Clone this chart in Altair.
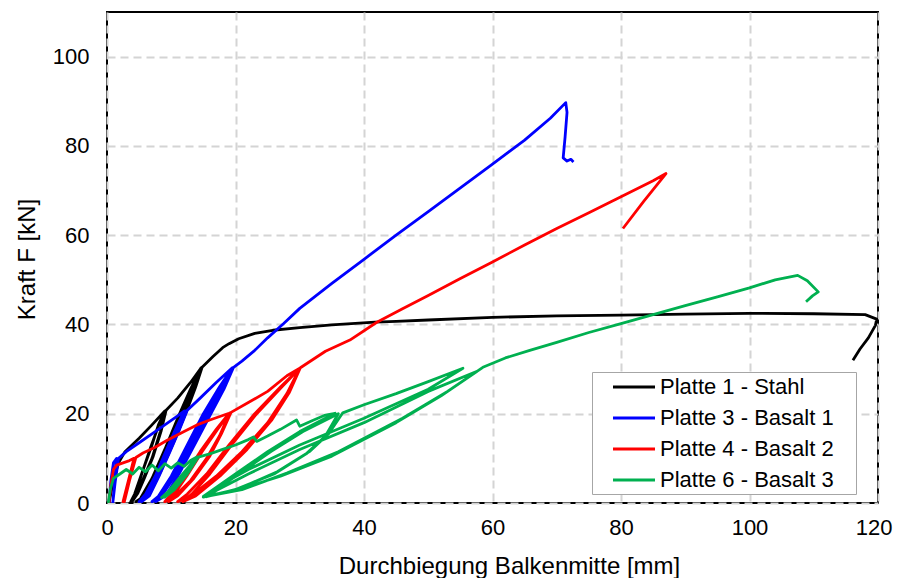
import altair as alt
import pandas as pd

series_names = ["Platte 1 - Stahl", "Platte 3 - Basalt 1", "Platte 4 - Basalt 2", "Platte 6 - Basalt 3"]
series_colors = ["#000000", "#0000FF", "#FF0000", "#00B050"]

# Platte 1 - Stahl
p1_x = [0.3, 1.0, 1.8, 2.8, 5.0, 7.0, 9.0,
        8.0, 7.0, 5.5, 4.3, 3.7, 4.5, 5.5, 7.0, 8.3, 9.0,
        8.0, 6.8, 5.4, 4.4, 3.9, 4.8, 5.8, 7.2, 8.4, 9.2,
        11.0, 13.0, 14.6,
        13.0, 11.0, 9.0, 7.0, 5.2, 4.5, 6.0, 8.0, 10.0, 12.0, 13.5, 14.6,
        13.0, 11.0, 9.0, 7.2, 5.6, 5.0, 6.5, 8.5, 10.5, 12.5, 13.8, 14.8,
        16.5, 18.0, 19.0, 20.5, 23.0, 25.8, 30.0, 35.0, 41.7, 45.0, 50.0, 60.0, 70.0, 80.0, 90.0, 100.0,
        110.0, 118.0, 119.8, 119.6, 118.5, 117.2, 116.1]
p1_y = [0.0, 5.0, 9.0, 11.5, 14.5, 17.5, 20.6,
        17.5, 13.0, 7.0, 2.0, 0.3, 2.0, 5.0, 10.0, 16.0, 20.6,
        17.2, 12.5, 6.5, 2.0, 0.3, 2.2, 5.5, 10.5, 16.0, 20.8,
        23.5, 27.0, 30.2,
        25.5, 19.0, 12.0, 5.5, 1.0, 0.3, 1.5, 7.0, 13.5, 20.5, 26.0, 30.2,
        25.0, 18.5, 11.5, 5.5, 1.0, 0.3, 1.8, 7.5, 14.0, 21.0, 26.0, 30.4,
        32.8, 34.8, 35.7, 36.8, 38.0, 38.7, 39.3, 39.9, 40.5, 40.7, 41.0, 41.6, 41.9, 42.1, 42.3, 42.5,
        42.4, 42.2, 41.2, 39.8, 37.0, 34.5, 32.0]

# Platte 3 - Basalt 1
p3_x = [0.3, 0.6, 1.0, 1.5, 1.2, 0.9, 1.3, 1.8, 3.0, 5.0, 7.0, 9.0, 11.0, 12.0,
        10.5, 9.0, 7.5, 6.0, 5.0, 6.2, 7.8, 9.5, 11.0, 12.2,
        10.7, 9.2, 7.7, 6.3, 5.4, 6.6, 8.1, 9.8, 11.3, 12.5,
        14.5, 17.0, 19.5,
        17.5, 15.0, 12.5, 10.0, 8.0, 7.0, 8.5, 10.5, 13.0, 15.5, 17.8, 19.6,
        17.6, 15.2, 12.8, 10.4, 8.5, 7.6, 9.2, 11.2, 13.6, 16.0, 18.2, 19.7,
        21.0, 23.0, 25.0, 27.5, 30.0, 35.0, 40.0, 45.0, 50.0, 55.0, 60.0,
        65.0, 69.0, 71.4, 71.6, 71.3, 71.0, 71.6, 72.2, 72.6]
p3_y = [0.0, 5.0, 9.0, 10.0, 5.0, 0.0, 5.0, 10.0, 11.5, 13.5, 15.5, 17.5, 19.5, 20.6,
        16.0, 11.0, 6.0, 2.0, 0.3, 1.5, 6.0, 11.5, 16.5, 20.6,
        16.0, 11.0, 6.0, 2.0, 0.3, 1.6, 6.0, 11.5, 16.5, 20.8,
        23.5, 27.0, 30.3,
        26.0, 20.0, 13.0, 6.0, 1.5, 0.3, 1.5, 6.0, 12.5, 19.0, 25.0, 30.3,
        25.5, 19.5, 12.5, 6.0, 1.5, 0.3, 1.7, 6.5, 13.0, 19.5, 25.5, 30.4,
        31.8, 34.2, 37.0, 40.2, 43.6, 49.2, 54.6, 60.0, 65.3, 70.6, 75.9,
        81.3, 86.2, 89.7, 87.5, 82.0, 77.3, 76.6, 77.0, 76.4]

# Platte 4 - Basalt 2
p4_x = [0.3, 0.6, 1.0, 1.5, 2.5, 3.5, 4.2, 3.5, 2.5, 3.2, 4.2, 3.4, 2.7, 3.5, 4.5, 5.6, 7.5, 9.3, 12.0, 14.0,
        16.0, 19.0,
        17.0, 14.5, 12.0, 10.0, 9.0, 10.5, 13.0, 15.5, 17.5, 19.1,
        17.2, 14.8, 12.4, 10.5, 9.6, 11.0, 13.5, 16.0, 17.8, 19.3,
        22.0, 25.0, 28.0, 30.0,
        27.0, 23.0, 19.0, 15.5, 12.5, 11.0, 13.0, 17.0, 21.0, 25.0, 28.0, 30.0,
        27.2, 23.3, 19.4, 16.0, 13.2, 11.8, 13.8, 17.8, 21.8, 25.6, 28.4, 30.1,
        34.0, 37.8, 42.0, 46.0, 50.0, 55.0, 60.0, 65.0, 70.0, 75.0, 80.0, 85.0, 87.0, 83.5, 80.3]
p4_y = [0.0, 4.0, 7.5, 8.5, 9.0, 9.5, 10.0, 6.0, 0.3, 4.0, 10.0, 5.0, 0.3, 5.0, 10.2, 11.2, 12.5, 14.0, 16.0, 17.5,
        18.6, 20.1,
        16.5, 11.5, 6.0, 2.0, 0.3, 1.5, 5.0, 10.0, 15.0, 20.2,
        16.5, 11.5, 6.0, 2.0, 0.3, 1.6, 5.5, 10.5, 15.5, 20.3,
        22.5, 25.0, 28.5, 30.2,
        26.0, 20.0, 13.0, 6.5, 2.0, 0.3, 1.5, 6.0, 11.5, 18.0, 24.5, 30.2,
        26.0, 20.0, 13.0, 6.5, 2.0, 0.3, 1.6, 6.3, 12.0, 18.5, 24.8, 30.3,
        34.0, 36.5, 40.5, 43.5, 46.5, 50.3, 54.0, 57.8, 61.5, 65.0, 68.6, 72.2, 73.8, 67.5, 61.5]

# Platte 6 - Basalt 3
p6_x = [0.2, 0.5, 1.0, 2.0, 3.0, 4.0, 5.0, 6.0, 7.0, 8.0, 9.0, 10.0, 11.0, 12.0, 13.0, 14.0,
        12.5, 10.5, 8.5, 9.5, 11.5, 14.0, 12.5, 10.5, 9.0, 10.5, 12.5, 14.2,
        16.0, 18.0, 20.0, 22.0, 22.8, 23.3, 25.0, 27.0, 29.5, 30.0, 32.0, 34.0, 35.5,
        30.0, 25.0, 20.0, 16.0, 15.0, 20.0, 26.0, 31.0, 34.0, 36.0,
        30.5, 25.5, 20.5, 16.5, 15.5, 20.5, 26.5, 31.5, 34.5, 36.7,
        40.0, 45.0, 50.0, 55.4,
        50.0, 40.0, 30.0, 22.0, 17.0, 15.0, 20.0, 27.0, 35.0, 45.0, 52.0, 57.6,
        50.0, 40.0, 30.0, 22.0, 17.0, 15.5, 21.0, 28.0, 36.0, 46.0, 53.0, 58.5,
        62.0, 65.8, 70.0, 75.0, 80.0, 85.0, 90.0, 95.0, 100.0, 104.0, 107.5, 109.0, 110.7, 109.8, 108.8]
p6_y = [0.0, 3.0, 5.5, 6.5, 7.5, 6.5, 8.0, 7.0, 8.5, 7.2, 8.8, 7.8, 9.0, 8.2, 9.5, 10.3,
        7.0, 3.5, 1.2, 2.5, 6.0, 10.3, 7.0, 3.5, 1.3, 3.0, 6.5, 10.3,
        11.0, 12.0, 13.0, 14.2, 14.8, 13.8, 15.0, 16.5, 18.6, 17.2, 18.5, 19.7, 20.1,
        16.0, 11.5, 6.5, 2.5, 1.3, 3.0, 6.5, 11.0, 15.0, 20.0,
        16.0, 11.5, 6.5, 2.5, 1.4, 3.2, 7.0, 11.5, 15.5, 20.2,
        22.0, 24.5, 27.2, 30.2,
        25.5, 19.0, 13.0, 7.5, 3.5, 1.5, 2.8, 6.0, 10.5, 18.0, 24.0, 29.5,
        25.0, 18.0, 12.0, 6.5, 2.8, 1.5, 3.0, 6.7, 11.5, 19.0, 25.0, 30.4,
        32.5, 34.2, 36.0, 38.2, 40.2, 42.2, 44.2, 46.2, 48.2, 50.0, 51.0, 49.8, 47.3, 46.4, 45.1]

xs = [p1_x, p3_x, p4_x, p6_x]
ys = [p1_y, p3_y, p4_y, p6_y]
rows = []
for name, sx, sy in zip(series_names, xs, ys):
    for i, (a, b) in enumerate(zip(sx, sy)):
        rows.append({"series": name, "x": a, "y": b, "i": i})
df = pd.DataFrame(rows)

FONT = "Liberation Sans"

chart = alt.Chart(df).mark_line(strokeWidth=2.8, clip=True, strokeJoin="round").encode(
    x=alt.X("x:Q", scale=alt.Scale(domain=[0, 120], nice=False),
            axis=alt.Axis(values=[0, 20, 40, 60, 80, 100, 120], title="Durchbiegung Balkenmitte [mm]",
                          titleX=402, titleY=70, titleBaseline="alphabetic", titleAlign="center",
                          labelPadding=14, labelFlush=False,
                          labelAlign={"condition": {"test": "datum.value == 120", "value": "right"},
                                      "value": "center"},
                          labelOffset={"condition": {"test": "datum.value == 120", "value": 14},
                                       "value": 0})),
    y=alt.Y("y:Q", scale=alt.Scale(domain=[0, 110], nice=False),
            axis=alt.Axis(values=[0, 20, 40, 60, 80, 100], title="Kraft F [kN]",
                          titleX=-73, titleY=247, titleBaseline="alphabetic", titleAlign="center",
                          titleAngle=270, labelPadding=18, labelFlush=False)),
    color=alt.Color("series:N", sort=series_names,
                    scale=alt.Scale(domain=series_names, range=series_colors),
                    legend=alt.Legend(title="\u00a0", titleOrient="right", titlePadding=19,
                                      titleFontSize=4,
                                      orient="none", legendX=485, legendY=360,
                                      symbolType="M-2,0H2", symbolSize=441, symbolStrokeWidth=3,
                                      symbolOffset=27, labelOffset=14, labelFontSize=22,
                                      labelFont=FONT, labelColor="#000000", rowPadding=8,
                                      labelLimit=500,
                                      padding=3, strokeColor="#a6a6a6", fillColor="#ffffff")),
    order=alt.Order("i:Q"),
    detail="series:N",
).properties(
    width=771, height=491,
    padding={"left": 99, "top": 4, "right": 15, "bottom": 75},
    autosize=alt.AutoSizeParams(type="none"),
).configure_view(
    stroke="#000000", strokeWidth=2
).configure_axis(
    domain=False, ticks=False, grid=True, gridColor="#d4d4d4", gridDash=[8, 5], gridWidth=2,
    labelFont=FONT, labelFontSize=22, labelColor="#000000",
    titleFont=FONT, titleFontSize=24, titleColor="#000000", titleFontWeight="normal",
)

chart.save("out.html", embed_options={"renderer": "svg", "actions": False})
